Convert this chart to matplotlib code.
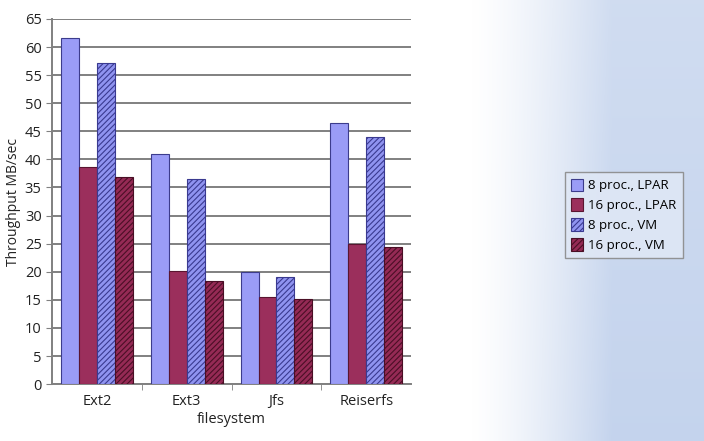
import matplotlib.pyplot as plt
import numpy as np

filesystems = ['Ext2', 'Ext3', 'Jfs', 'Reiserfs']
series_names = ['8 proc., LPAR', '16 proc., LPAR', '8 proc., VM', '16 proc., VM']
lpar_8 = [61.6, 40.9, 20.0, 46.5]
lpar_16 = [38.7, 20.1, 15.5, 24.9]
vm_8 = [57.2, 36.6, 19.0, 43.9]
vm_16 = [36.9, 18.3, 15.1, 24.4]
yticks = list(range(0, 70, 5))

series = [lpar_8, lpar_16, vm_8, vm_16]
faces = ['#9a9cf6', '#9b2f5c', '#8f93f0', '#952a55']
edges = ['#3c3c8c', '#5a1530', '#3a3a90', '#4a0f25']
hatches = [None, None, '//////', '//////']

plt.rcParams['font.family'] = ['Open Sans', 'DejaVu Sans']
plt.rcParams['hatch.linewidth'] = 0.8

fig = plt.figure(figsize=(7.04, 4.41), dpi=100)

# background gradient (white -> light blue on the right)
bg = fig.add_axes([0, 0, 1, 1], zorder=-10)
w, h = 704, 441
X, Y = np.meshgrid(np.linspace(0, 1, w), np.linspace(0, 1, h))
t = np.clip((X - 0.67) / 0.2, 0, 1) ** 1.3
t = t * (0.8 + 0.2 * Y)
white = np.array([1.0, 1.0, 1.0])
blue = np.array([0.77, 0.83, 0.93])
img = white[None, None, :] * (1 - t[..., None]) + blue[None, None, :] * t[..., None]
bg.imshow(img, aspect='auto', extent=[0, 1, 0, 1], origin='upper')
bg.axis('off')

ax = fig.add_axes([0.074, 0.129, 0.51, 0.828])
ax.patch.set_alpha(0)

x = np.arange(len(filesystems))
bw = 0.2
for i, vals in enumerate(series):
    ax.bar(x - 0.3 + i * bw, vals, bw, color=faces[i], edgecolor=edges[i],
           linewidth=0.8, hatch=hatches[i], label=series_names[i], zorder=3)

ax.set_xlim(-0.5, 3.5)
ax.set_ylim(0, 65)
ax.set_yticks(yticks)
ax.yaxis.grid(True, color='#808080', linewidth=1.4, zorder=0)
ax.set_axisbelow(True)
for s in ['top', 'right']:
    ax.spines[s].set_visible(False)
ax.spines['left'].set_color('#808080')
ax.spines['bottom'].set_color('#808080')
ax.spines['left'].set_linewidth(1.4)
ax.spines['bottom'].set_linewidth(1.4)

ax.set_xticks(x)
ax.set_xticklabels(filesystems)
ax.set_xticks([0.5, 1.5, 2.5], minor=True)
ax.tick_params(axis='x', which='major', length=0, labelsize=10.5, pad=7, colors='#222222')
ax.tick_params(axis='x', which='minor', length=4, color='#808080')
ax.tick_params(axis='y', length=4, color='#808080', labelsize=10.5, colors='#222222')
ax.set_xlabel('filesystem', fontsize=10.5, color='#222222', labelpad=2)
ax.set_ylabel('Throughput MB/sec', fontsize=10, color='#222222', labelpad=3)

leg = fig.legend(loc='upper left', bbox_to_anchor=(0.802, 0.61), fontsize=9.5,
                 frameon=True, fancybox=False, handlelength=0.9, handleheight=1.1,
                 handletextpad=0.35, borderpad=0.5, labelspacing=0.45,
                 borderaxespad=0)
leg.get_frame().set_edgecolor('#8a8a8a')
leg.get_frame().set_facecolor('#dfe7f5')
leg.get_frame().set_alpha(0.9)

fig.savefig('out.png', dpi=100)
